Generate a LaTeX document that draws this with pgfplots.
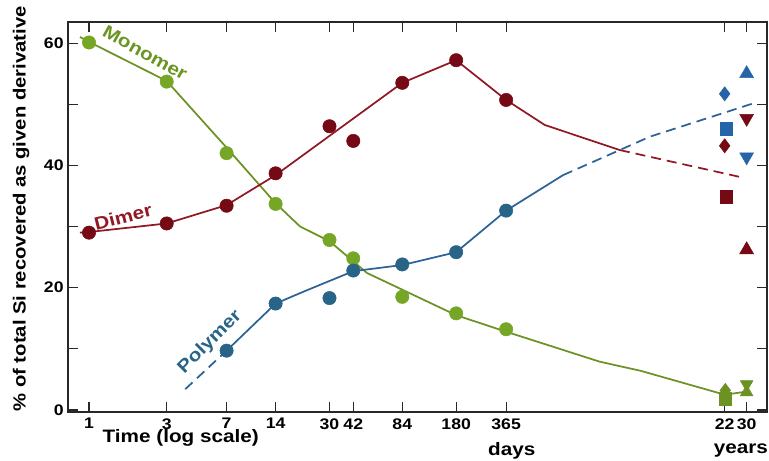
\documentclass[border=0pt]{standalone}
\usepackage{pgfplots}
\pgfplotsset{compat=1.18}
\usepackage{fontspec}
\setmainfont{Liberation Sans}[FakeStretch=1.15]
\definecolor{monoL}{RGB}{107,146,35}
\definecolor{monoM}{RGB}{118,166,38}
\definecolor{dimL}{RGB}{145,25,38}
\definecolor{dimM}{RGB}{118,10,20}
\definecolor{polL}{RGB}{45,98,150}
\definecolor{polM}{RGB}{40,100,135}
\definecolor{polY}{RGB}{38,100,170}
\definecolor{axc}{RGB}{40,40,40}
\begin{document}
\begin{tikzpicture}
\begin{axis}[
  scale only axis,
  width=523.8pt, height=292.5pt,
  xmode=log,
  xmin=0.746, xmax=14550,
  ymin=-0.28, ymax=63.5,
  xtick={1,3,7,14,30,42,84,180,365,8030,10957},
  xticklabels={1,3,7,14,30,42,84,180,365,22,30},
  minor xtick={},
  ytick={0,10,20,30,40,50,60},
  yticklabels={0,,20,,40,,60},
  major tick length=7.5pt,
  tick style={axc, line width=0.8pt, solid},
  axis line style={axc, line width=1.4pt, solid},
  tick label style={font=\bfseries\fontsize{11.5}{12}\selectfont, text=black},
  xticklabel style={yshift=-1.5pt},
  /pgf/number format/assume math mode=true,
  ylabel={\% of total Si recovered as given derivative},
  ylabel style={font=\bfseries\fontsize{13.2}{14}\selectfont, at={(axis description cs:-0.0674,0.52)}, anchor=center},
  clip=false,
]
% Monomer line
\addplot[monoL, line width=1.3pt, solid] coordinates {
 (0.88,61) (1,60.2) (3,53.8) (7,42.9) (14,33.8) (19.8,30) (30,27.6) (51,22.4) (180,15.5) (365,12.8) (1370,7.9) (2450,6.4) (8030,2.5) (10957,3.0)};
% Dimer line
\addplot[dimL, line width=1.3pt, solid] coordinates {
 (0.88,29) (1,29.1) (3,30.5) (7,33.5) (14,38.4) (84,53.5) (180,57.2) (365,50.7) (631,46.6) (1825,42.5)};
\addplot[dimL, line width=1.3pt, dash pattern=on 7.5pt off 4.5pt] coordinates {
 (1825,42.5) (10000,38.1)};
% Polymer line
\addplot[polL, line width=1.3pt, dash pattern=on 7.5pt off 4.5pt] coordinates {
 (3.9,3.4) (7,9.7)};
\addplot[polL, line width=1.3pt, solid] coordinates {
 (7,9.7) (14,17.4) (21,19.4) (42,22.7) (84,23.7) (180,25.8) (365,32.6) (816,38.4)};
\addplot[polL, line width=1.3pt, dash pattern=on 7.5pt off 4.5pt] coordinates {
 (816,38.4) (2793,44.7) (11900,50.1)};
% circles
\addplot[only marks, mark=*, mark size=5pt, mark options={fill=monoM, draw=monoM, solid}] coordinates {
 (1,60.1) (3,53.7) (7,42) (14,33.7) (30,27.8) (42,24.8) (84,18.5) (180,15.8) (365,13.2)};
\addplot[only marks, mark=*, mark size=5pt, mark options={fill=dimM, draw=dimM, solid}] coordinates {
 (1,29) (3,30.5) (7,33.4) (14,38.7) (30,46.4) (42,44) (84,53.5) (180,57.2) (365,50.7)};
\addplot[only marks, mark=*, mark size=5pt, mark options={fill=polM, draw=polM, solid}] coordinates {
 (7,9.7) (14,17.4) (30,18.3) (42,22.8) (84,23.8) (180,25.8) (365,32.6)};
% year markers
\addplot[only marks, mark=diamond*, mark size=5.3pt, mark options={fill=polY, draw=polY, solid}] coordinates {(8030,51.7)};
\addplot[only marks, mark=square*, mark size=4.7pt, mark options={fill=polY, draw=polY, solid}] coordinates {(8200,46)};
\addplot[only marks, mark=triangle*, mark size=6pt, mark options={fill=polY, draw=polY, solid}] coordinates {(10957,55)};
\addplot[only marks, mark=triangle*, mark size=6pt, mark options={fill=polY, draw=polY, solid, rotate=180}] coordinates {(10957,41.4)};
\addplot[only marks, mark=diamond*, mark size=5.3pt, mark options={fill=dimM, draw=dimM, solid}] coordinates {(8030,43.2)};
\addplot[only marks, mark=square*, mark size=4.7pt, mark options={fill=dimM, draw=dimM, solid}] coordinates {(8200,34.9)};
\addplot[only marks, mark=triangle*, mark size=6pt, mark options={fill=dimM, draw=dimM, solid, rotate=180}] coordinates {(10957,47.7)};
\addplot[only marks, mark=triangle*, mark size=6pt, mark options={fill=dimM, draw=dimM, solid}] coordinates {(10957,26.2)};
\addplot[only marks, mark=square*, mark size=4.7pt, mark options={fill=monoL, draw=monoL, solid}] coordinates {(8100,1.8)};
\addplot[only marks, mark=diamond*, mark size=5.3pt, mark options={fill=monoL, draw=monoL, solid}] coordinates {(8100,3.2)};
\addplot[only marks, mark=triangle*, mark size=5.5pt, mark options={fill=monoL, draw=monoL, solid}] coordinates {(10957,2.9)};
\addplot[only marks, mark=triangle*, mark size=5.5pt, mark options={fill=monoL, draw=monoL, solid, rotate=180}] coordinates {(10957,4.2)};
% series labels
\node[font=\bfseries\fontsize{13.5}{14}\selectfont, text=monoM!90!black, rotate=-29] at (axis cs:2.21,58.4) {Monomer};
\node[font=\bfseries\fontsize{13.5}{14}\selectfont, text=dimL, rotate=14] at (axis cs:1.62,31.6) {Dimer};
\node[font=\bfseries\fontsize{13.5}{14}\selectfont, text=polM, rotate=45] at (axis cs:5.54,11.1) {Polymer};
% axis texts
\node[font=\bfseries\fontsize{13.5}{14}\selectfont] at (axis description cs:0.161,-0.0674) {Time (log scale)};
\node[font=\bfseries\fontsize{13.5}{14}\selectfont] at (axis description cs:0.635,-0.0995) {days};
\node[font=\bfseries\fontsize{13.5}{14}\selectfont] at (axis description cs:0.963,-0.0995) {years};
\coordinate (bbl) at (rel axis cs:-0.0978,-0.1264);
\coordinate (btr) at (rel axis cs:1.0033,1.0556);
\end{axis}
\pgfresetboundingbox
\path[use as bounding box] (bbl) rectangle (btr);
\end{tikzpicture}
\end{document}
